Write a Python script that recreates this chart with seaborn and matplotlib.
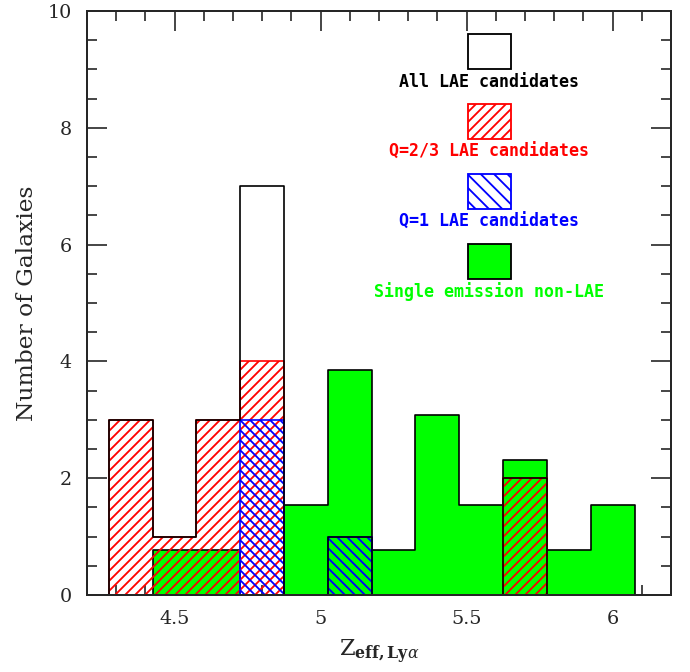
import matplotlib
matplotlib.use("Agg")
import matplotlib.pyplot as plt
from matplotlib.patches import Rectangle
from matplotlib.ticker import MultipleLocator, FormatStrFormatter
import seaborn as sns

# histogram bins in z (width 0.15), first bin is empty
z_bins = [4.2, 4.35, 4.5, 4.65, 4.8, 4.95, 5.1, 5.25, 5.4, 5.55, 5.7, 5.85, 6.0]
bin_edges = [4.125, 4.275, 4.425, 4.575, 4.725, 4.875, 5.025, 5.175, 5.325,
             5.475, 5.625, 5.775, 5.925, 6.075]

n_all = [0, 3, 1, 3, 7, 0, 1, 0, 0, 0, 2, 0, 0]
n_q23 = [0, 3, 1, 3, 4, 0, 0, 0, 0, 0, 2, 0, 0]
n_q1 = [0, 0, 0, 0, 3, 0, 1, 0, 0, 0, 0, 0, 0]
n_single = [0, 0, 0.77, 0.77, 0, 1.54, 3.85, 0.77, 3.08, 1.54, 2.31, 0.77, 1.54]

legend_labels = ["All LAE candidates", "Q=2/3 LAE candidates",
                 "Q=1 LAE candidates", "Single emission non-LAE"]
legend_colors = ["black", "red", "blue", "#00ff00"]

sns.set_style("ticks")
plt.rcParams['font.family'] = ['DejaVu Serif']
plt.rcParams['mathtext.fontset'] = 'dejavuserif'
plt.rcParams['hatch.linewidth'] = 1.1

fig, ax = plt.subplots(figsize=(5.75, 5.6), dpi=120)
fig.subplots_adjust(left=0.126, right=0.9725, bottom=0.1146, top=0.9836)

# single emission line objects (filled green)
sns.histplot(x=z_bins, weights=n_single, bins=bin_edges, element="step",
             fill=True, color="#00ff00", alpha=1, edgecolor="black",
             linewidth=1.0, ax=ax)
# Q=2/3 candidates, hatched outline
sns.histplot(x=z_bins, weights=n_q23, bins=bin_edges, element="step",
             fill=True, color="red", alpha=1, facecolor="none",
             edgecolor="red", hatch="////", linewidth=1.0, ax=ax)
# Q=1 candidates
sns.histplot(x=z_bins, weights=n_q1, bins=bin_edges, element="step",
             fill=True, color="blue", alpha=1, facecolor="none",
             edgecolor="blue", hatch="\\\\\\\\", linewidth=1.0, ax=ax)
# all LAE candidates, outline only
sns.histplot(x=z_bins, weights=n_all, bins=bin_edges, element="step",
             fill=False, color="black", linewidth=1.0, ax=ax)

ax.set_xlim(4.2, 6.2)
ax.set_ylim(0, 10)
ax.xaxis.set_major_locator(MultipleLocator(0.5))
ax.xaxis.set_minor_locator(MultipleLocator(0.1))
ax.xaxis.set_major_formatter(FormatStrFormatter('%g'))
ax.yaxis.set_major_locator(MultipleLocator(2))
ax.yaxis.set_minor_locator(MultipleLocator(0.5))
ax.tick_params(which='both', direction='in', top=True, right=True,
               width=1.0, labelsize=11.5, pad=9)
ax.tick_params(which='major', length=12)
ax.tick_params(which='minor', length=6)
for s in ax.spines.values():
    s.set_linewidth(1.2)

ax.set_xlabel(r"$\mathrm{Z}_{\mathbf{eff,Ly}\alpha}$", fontsize=13.5, labelpad=6)
ax.set_ylabel("Number of Galaxies", fontsize=14, labelpad=6)

# legend: box with the label under it
box_tops = [0.9606, 0.8402, 0.7204, 0.6005]
text_y = [0.8789, 0.7591, 0.6392, 0.5193]
hatches = [None, "////", "\\\\\\", None]
for i in range(4):
    if i == 3:
        face, edge = "#00ff00", "black"
    else:
        face, edge = "none", legend_colors[i]
    ax.add_patch(Rectangle((0.652, box_tops[i] - 0.060), 0.0736, 0.060,
                           transform=ax.transAxes, facecolor=face,
                           edgecolor=edge, hatch=hatches[i], linewidth=1.1))
    ax.text(0.688, text_y[i], legend_labels[i], transform=ax.transAxes,
            ha='center', va='center', color=legend_colors[i],
            family='DejaVu Sans Mono', fontweight='bold', fontsize=10)

plt.savefig("out.png", dpi=120)
